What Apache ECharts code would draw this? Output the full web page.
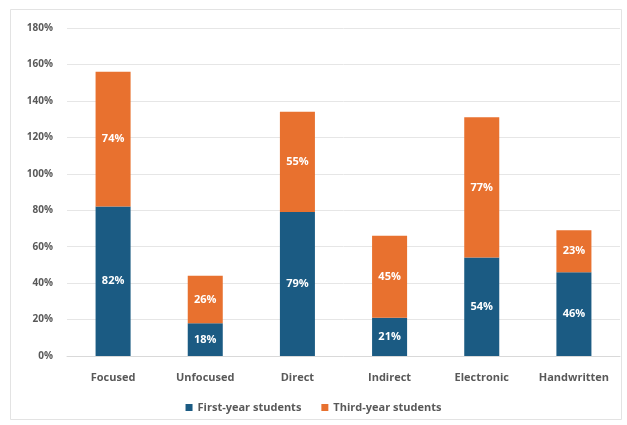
<!DOCTYPE html>
<html>
<head>
<meta charset="utf-8">
<script src="https://cdn.jsdelivr.net/npm/echarts@6/dist/echarts.min.js"></script>
<style>
  html, body { margin: 0; padding: 0; background: #fff; }
  #chart { width: 627px; height: 425px; }
</style>
</head>
<body>
<div id="chart"></div>
<script>
const categories = ['Focused', 'Unfocused', 'Direct', 'Indirect', 'Electronic', 'Handwritten']
const firstYear = [82, 18, 79, 21, 54, 46]
const thirdYear = [74, 26, 55, 45, 77, 23]
const seriesNames = ['First-year students', 'Third-year students']

const BLUE = '#1b5b83'
const ORANGE = '#e8712f'
const TEXT = '#595959'
const FONT = '"Open Sans", Lato, sans-serif'

const chart = echarts.init(document.getElementById('chart'), null, { renderer: 'canvas' })

const barLabel = {
  show: true,
  position: 'inside',
  color: '#fff',
  fontWeight: 'bold',
  fontSize: 11,
  fontFamily: FONT,
  formatter: p => p.value + '%',
}

chart.setOption({
  animation: false,
  textStyle: { fontFamily: FONT },
  graphic: [
    {
      type: 'rect',
      shape: { x: 10.5, y: 9.5, width: 611, height: 410 },
      style: { fill: 'none', stroke: '#e3e3e3', lineWidth: 1 },
      silent: true,
    },
  ],
  grid: { left: 67, right: 7, top: 28, bottom: 69 },
  legend: {
    bottom: 7,
    left: 'center',
    itemWidth: 7,
    itemHeight: 7,
    itemGap: 20,
    icon: 'rect',
    textStyle: { color: TEXT, fontSize: 11, fontWeight: 'bold' },
    data: seriesNames,
  },
  xAxis: {
    type: 'category',
    data: categories,
    axisTick: { show: false },
    axisLine: { lineStyle: { color: '#d9d9d9' } },
    axisLabel: { color: TEXT, fontSize: 11, fontWeight: 'bold', margin: 16 },
  },
  yAxis: {
    type: 'value',
    min: 0,
    max: 180,
    interval: 20,
    axisLabel: {
      color: TEXT,
      fontSize: 10,
      fontWeight: 'bold',
      margin: 14,
      formatter: v => v + '%',
    },
    splitLine: { lineStyle: { color: '#e6e6e6' } },
  },
  series: [
    {
      name: seriesNames[0],
      type: 'bar',
      stack: 'total',
      barWidth: '38%',
      itemStyle: { color: BLUE },
      label: barLabel,
      data: firstYear,
    },
    {
      name: seriesNames[1],
      type: 'bar',
      stack: 'total',
      barWidth: '38%',
      itemStyle: { color: ORANGE },
      label: barLabel,
      data: thirdYear,
    },
  ],
})
</script>
</body>
</html>
